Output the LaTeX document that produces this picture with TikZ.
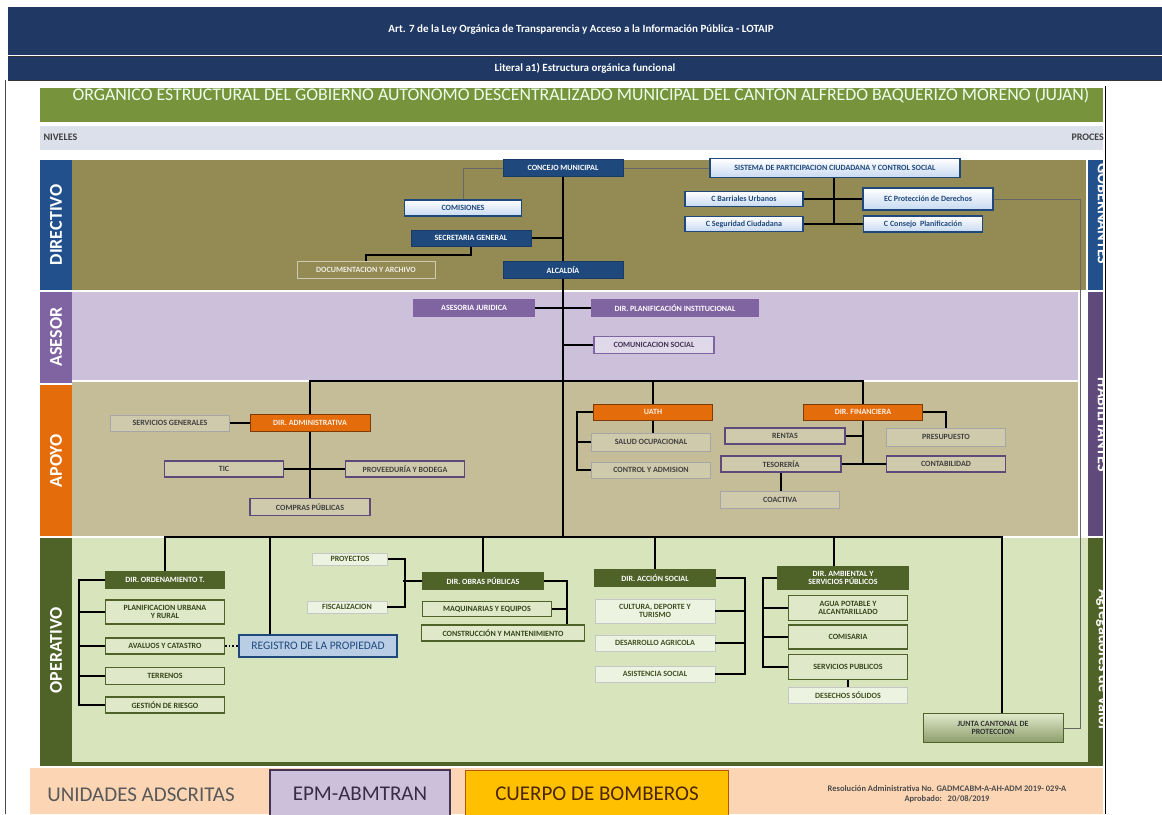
\documentclass[tikz,border=0pt]{standalone}
\usepackage{fontspec}
\setmainfont{Carlito}

\definecolor{hdrblue}{HTML}{1F3864}
\definecolor{titlegreen}{HTML}{77933C}
\definecolor{nivgray}{HTML}{DCE0EA}
\definecolor{dirband}{HTML}{948A54}
\definecolor{dirlabel}{HTML}{21508C}
\definecolor{asesband}{HTML}{CCC0DA}
\definecolor{aseslabel}{HTML}{8064A2}
\definecolor{apoyband}{HTML}{C4BD97}
\definecolor{apoylabel}{HTML}{E46C0A}
\definecolor{operband}{HTML}{D7E4BC}
\definecolor{operlabel}{HTML}{4F6228}
\definecolor{habilabel}{HTML}{604A7B}
\definecolor{navyfill}{HTML}{1F497D}
\definecolor{skyfill}{HTML}{C6D9F1}
\definecolor{purpline}{HTML}{5F497A}
\definecolor{regblue}{HTML}{B9CDE5}
\definecolor{peachfill}{HTML}{FCD5B4}
\definecolor{goldfill}{HTML}{FFC000}

\tikzset{
	orgbox/.style={draw, line width=1.4pt, inner sep=1pt, align=center, minimum height=16pt,
		font=\fontsize{8}{8}\selectfont\bfseries},
	dirnode/.style={orgbox, fill=navyfill, draw=navyfill!80!black, line width=1pt, text=white},
	skynode/.style={orgbox, draw=navyfill, top color=white, bottom color=skyfill, text=navyfill},
	asesnode/.style={orgbox, fill=aseslabel, draw=aseslabel, text=white},
	comnode/.style={orgbox, fill=asesband!60!white, draw=aseslabel, text=purpline!70!black},
	apoynode/.style={orgbox, fill=apoylabel, draw=apoylabel!55!black, line width=1pt, text=white!90!apoylabel},
	tanthin/.style={orgbox, fill=apoyband!80!white, draw=gray!70, line width=0.5pt, text=black!75},
	tanpurp/.style={orgbox, fill=apoyband!80!white, draw=purpline, text=black!75},
	opernode/.style={orgbox, fill=operlabel, draw=operlabel, text=white},
	greennode/.style={orgbox, fill=operband!80!white, draw=operlabel, text=operlabel!70!black},
	palenode/.style={orgbox, fill=operband!45!white, draw=gray!45, line width=0.5pt, text=operlabel!80!black},
	link/.style={line width=2pt, black},
	thinlink/.style={line width=0.6pt, black!60},
	lvl/.style={rotate=90, text=white, font=\fontsize{18}{18}\selectfont\bfseries},
	proc/.style={rotate=-90, text=white, font=\fontsize{16}{16}\selectfont\bfseries},
	foot/.style={font=\fontsize{21}{21}\selectfont},
}

\begin{document}
\begin{tikzpicture}[x=1pt,y=-1pt]
	\useasboundingbox (0,0) rectangle (1162,814);
	\fill[white] (0,0) rectangle (1162,814);

	% encabezado
	\fill[hdrblue] (8,7) rectangle (1162,55);
	\fill[hdrblue] (8,57) rectangle (1162,80);
	\draw[black!80, line width=1pt] (8,56)--(1162,56);
	\draw[black!80, line width=1pt] (8,80.5)--(1162,80.5);
	\node[text=white, font=\fontsize{11}{12}\selectfont\bfseries] (art) at (581,30)
		{Art. 7 de la Ley Orgánica de Transparencia y Acceso a la Información Pública - LOTAIP};
	\node[text=white, font=\fontsize{11}{12}\selectfont\bfseries] (literal) at (585,68)
		{Literal a1) Estructura orgánica funcional};
	\draw[black!70, line width=0.8pt] (5,80)--(5,814);
	\draw[black, line width=1.6pt] (1105.5,86)--(1105.5,814);

	% titulo
	\fill[titlegreen] (40,88) rectangle (1103,122);
	\begin{scope}
		\clip (40,88) rectangle (1103,122);
		\node[text=green!8!white, font=\fontsize{17.8}{18}\selectfont] (titulo) at (581,94)
			{ORGÁNICO ESTRUCTURAL DEL GOBIERNO AUTÓNOMO DESCENTRALIZADO MUNICIPAL DEL CANTÓN ALFREDO BAQUERIZO MORENO (JUJAN)};
	\end{scope}
	\fill[nivgray] (40,126) rectangle (1103,150);
	\node[anchor=west, text=black!75, font=\fontsize{10}{10}\selectfont\bfseries] (niveles) at (40,137) {NIVELES};
	\begin{scope}
		\clip (40,126) rectangle (1103,150);
		\node[anchor=west, text=black!75, font=\fontsize{10}{10}\selectfont\bfseries] (procesos) at (1068,137) {PROCESOS};
	\end{scope}

	% niveles
	\fill[dirlabel] (40,160) rectangle (72,290);
	\fill[dirband] (72,160) rectangle (1086,290);
	\fill[aseslabel] (40,292) rectangle (72,383);
	\fill[asesband] (72,292) rectangle (1078,380);
	\fill[apoylabel] (40,385) rectangle (72,536);
	\fill[apoyband] (72,382) rectangle (1078,536);
	\fill[operlabel] (40,538) rectangle (72,766);
	\fill[operband] (72,538) rectangle (1088,762);
	\fill[operlabel] (40,762) rectangle (1103,766);
	\fill[dirlabel] (1088,160) rectangle (1103,290);
	\fill[habilabel] (1088,292) rectangle (1103,536);
	\fill[operlabel] (1088,538) rectangle (1103,766);
	\node[lvl] (directivo) at (56,225) {DIRECTIVO};
	\node[lvl] (asesor) at (56,337) {ASESOR};
	\node[lvl] (apoyo) at (56,461) {APOYO};
	\node[lvl] (operativo) at (56,650) {OPERATIVO};
	\begin{scope}
		\clip (1088,155) rectangle (1104,766);
		\node[proc] (gobernantes) at (1103,214) {GOBERNANTES};
		\node[proc] (habilitantes) at (1103,425) {HABILITANTES};
		\node[proc] (agregadores) at (1103,660) {Agregadores de Valor};
	\end{scope}

	% directivo
	\node[dirnode, minimum width=120pt, minimum height=17pt] (concejo) at (563,168) {CONCEJO MUNICIPAL};
	\node[skynode, minimum width=250pt, minimum height=19pt] (sistema) at (835,168)
		{SISTEMA DE PARTICIPACION CIUDADANA Y CONTROL SOCIAL};
	\node[skynode, minimum width=117pt] (comisiones) at (463,208) {COMISIONES};
	\node[dirnode, minimum width=120pt] (secretaria) at (471,238) {SECRETARIA GENERAL};
	\node[orgbox, fill=dirband, draw=white!55!dirband, line width=0.5pt, text=white!85!dirband,
		minimum width=138pt, minimum height=17pt] (documentacion) at (366,270) {DOCUMENTACION Y ARCHIVO};
	\node[dirnode, minimum width=120pt, minimum height=17pt] (alcaldia) at (563,270) {ALCALDÍA};
	\node[skynode, minimum width=118pt, minimum height=15pt] (barriales) at (744,199) {C Barriales Urbanos};
	\node[skynode, minimum width=118pt, minimum height=15pt] (seguridad) at (744,224) {C Seguridad Ciudadana};
	\node[skynode, minimum width=130pt, minimum height=22pt] (proteccion) at (928,199) {EC Protección de Derechos};
	\node[skynode, minimum width=119pt] (planificacion) at (923,224) {C Consejo\ \ Planificación};

	\draw[link] (concejo)--(alcaldia);
	\draw[thinlink] (concejo.west) -| (comisiones.north);
	\draw[thinlink] (concejo)--(sistema);
	\draw[link] (secretaria)--(secretaria -| alcaldia);
	\draw[link] (secretaria.south)--++(0,8) -| (documentacion.north);
	\draw[link] ([xshift=-1pt]sistema.south)--([xshift=-1pt]sistema.south |- seguridad);
	\draw[link] (barriales)--(proteccion);
	\draw[link] (seguridad)--(planificacion);

	% asesor
	\node[asesnode, minimum width=120pt] (juridica) at (474,308) {ASESORIA JURIDICA};
	\node[asesnode, minimum width=167pt] (planinst) at (675,308) {DIR. PLANIFICACIÓN INSTITUCIONAL};
	\node[comnode, minimum width=120pt, minimum height=17pt] (comunicacion) at (654,345) {COMUNICACION SOCIAL};
	\coordinate (busA) at (563,381);
	\coordinate (busO) at (563,537);
	\draw[link] (alcaldia)--(alcaldia |- busO);
	\draw[link] (juridica)--(planinst);
	\draw[link] (comunicacion)--(comunicacion -| alcaldia);

	% apoyo
	\node[tanthin, minimum width=119pt] (servgen) at (170,423) {SERVICIOS GENERALES};
	\node[apoynode, minimum width=120pt, minimum height=17pt] (admin) at (310,423) {DIR. ADMINISTRATIVA};
	\node[tanpurp, minimum width=119pt] (tic) at (224,469) {TIC};
	\node[tanpurp, minimum width=119pt] (proveeduria) at (405,469) {PROVEEDURÍA Y BODEGA};
	\node[tanpurp, minimum width=120pt, minimum height=17pt] (compras) at (310,507) {COMPRAS PÚBLICAS};
	\node[apoynode, minimum width=119pt] (uath) at (653,412) {UATH};
	\node[tanthin, minimum width=119pt, minimum height=18pt] (salud) at (651,442) {SALUD OCUPACIONAL};
	\node[tanthin, minimum width=119pt] (control) at (651,470) {CONTROL Y ADMISION};
	\node[apoynode, minimum width=119pt] (financiera) at (863,412) {DIR. FINANCIERA};
	\node[tanpurp, minimum width=120pt] (rentas) at (785,436) {RENTAS};
	\node[tanthin, minimum width=119pt, minimum height=18pt] (presupuesto) at (946,437) {PRESUPUESTO};
	\node[tanpurp, minimum width=120pt] (tesoreria) at (781,464) {TESORERÍA};
	\node[tanpurp, minimum width=119pt] (contabilidad) at (946,464) {CONTABILIDAD};
	\node[tanthin, minimum width=119pt, minimum height=17pt] (coactiva) at (780,500) {COACTIVA};

	\draw[link] (admin.north) |- (busA) -| (financiera.north);
	\draw[link] (uath.north)--(uath.north |- busA);
	\draw[link] (servgen)--(admin);
	\draw[link] (admin)--(compras);
	\draw[link] (tic)--(proveeduria);
	\draw[link] (uath.south)--(uath.south |- salud.north);
	\draw[link] (uath.west)--++(-16,0) |- (control.west);
	\draw[link] (salud.west)--++(-14,0);
	\draw[link] (financiera.south)--(financiera.south |- tesoreria);
	\draw[link] (rentas.east)--(rentas.east -| financiera);
	\draw[link] (tesoreria)--(contabilidad);
	\draw[link] (financiera.east) -| (presupuesto.north);
	\draw[link] (tesoreria.south)--(tesoreria.south |- coactiva.north);

	% operativo
	\node[opernode, minimum width=119pt] (ordena) at (165,580) {DIR. ORDENAMIENTO T.};
	\node[greennode, minimum width=119pt, minimum height=24pt] (planurb) at (165,612) {PLANIFICACION URBANA\\Y RURAL};
	\node[greennode, minimum width=119pt] (avaluos) at (165,646) {AVALUOS Y CATASTRO};
	\node[greennode, minimum width=119pt, minimum height=17pt] (terrenos) at (165,676) {TERRENOS};
	\node[greennode, minimum width=119pt] (riesgo) at (165,705) {GESTIÓN DE RIESGO};
	\node[orgbox, fill=regblue, draw=navyfill, line width=1.6pt, text=navyfill, font=\fontsize{11.5}{11.5}\selectfont,
		minimum width=158pt, minimum height=22pt] (registro) at (318,646) {REGISTRO DE LA PROPIEDAD};
	\node[palenode, minimum width=75pt, minimum height=12pt] (proyectos) at (350,559) {PROYECTOS};
	\node[palenode, minimum width=80pt, minimum height=12pt] (fiscalizacion) at (347,607) {FISCALIZACION};
	\node[opernode, minimum width=120pt, minimum height=17pt] (obras) at (483,581) {DIR. OBRAS PÚBLICAS};
	\node[greennode, minimum width=129pt, minimum height=15pt] (maquinarias) at (487,609) {MAQUINARIAS Y EQUIPOS};
	\node[greennode, minimum width=163pt] (construccion) at (503,633) {CONSTRUCCIÓN Y MANTENIMIENTO};
	\node[opernode, minimum width=120pt, minimum height=17pt] (accion) at (655,578) {DIR. ACCIÓN SOCIAL};
	\node[palenode, minimum width=120pt, minimum height=24pt] (cultura) at (655,611) {CULTURA, DEPORTE Y\\TURISMO};
	\node[palenode, minimum width=120pt] (agricola) at (655,643) {DESARROLLO AGRICOLA};
	\node[palenode, minimum width=120pt] (asistencia) at (655,674) {ASISTENCIA SOCIAL};
	\node[opernode, minimum width=131pt, minimum height=22pt] (ambiental) at (843,578) {DIR. AMBIENTAL Y\\SERVICIOS PÚBLICOS};
	\node[greennode, minimum width=119pt, minimum height=25pt] (agua) at (848,608) {AGUA POTABLE Y\\ALCANTARILLADO};
	\node[greennode, minimum width=119pt, minimum height=24pt] (comisaria) at (848,637) {COMISARIA};
	\node[greennode, minimum width=119pt, minimum height=25pt] (servpub) at (848,667) {SERVICIOS PUBLICOS};
	\node[palenode, minimum width=119pt] (desechos) at (848,695) {DESECHOS SÓLIDOS};
	\node[orgbox, top color=operband!80!white, bottom color=operlabel!55!operband, draw=operlabel, line width=1pt,
		text=black!80, minimum width=140pt, minimum height=29pt] (junta) at (993,728) {JUNTA CANTONAL DE\\PROTECCION};

	\draw[link] (ordena.north) |- (busO) -| ([xshift=9pt]junta.north);
	\draw[link] ([xshift=-48pt]registro.north)--([xshift=-48pt]registro.north |- busO);
	\draw[link] (obras.north)--(obras.north |- busO);
	\draw[link] (accion.north)--(accion.north |- busO);
	\draw[link] ([xshift=-9pt]ambiental.north)--([xshift=-9pt]ambiental.north |- busO);
	\draw[link] (ordena.west)--++(-26,0) |- (riesgo.west);
	\foreach \n in {planurb,avaluos,terrenos}
		\draw[link] (\n.west)--++(-26,0);
	\draw[line width=1.6pt, dotted] (avaluos)--(registro);
	\draw[link] (proyectos.east)--++(17,0) |- (fiscalizacion.east);
	\draw[link] (obras.west)--++(-19,0);
	\draw[link] (obras.east)--++(23,0) coordinate (obrasr)--(obrasr |- construccion.north);
	\draw[link] (maquinarias.east)--(maquinarias.east -| obrasr);
	\draw[link] (accion.east)--++(29,0) |- (asistencia.east);
	\foreach \n in {cultura,agricola}
		\draw[link] (\n.east)--++(29,0);
	\draw[link] (ambiental.west)--++(-14,0) |- (servpub.west);
	\foreach \n in {agua,comisaria}
		\draw[link] (\n.west)--++(-25,0);
	\draw[link] (servpub)--(desechos);
	\draw[thinlink] (proteccion.east)--++(87,0) |- (junta.east);

	% unidades adscritas
	\fill[peachfill] (30,768) rectangle (1103,814);
	\node[foot, text=black!65] (unidades) at (141,795) {UNIDADES ADSCRITAS};
	\node[foot, draw=purpline!70!black, line width=1.5pt, fill=asesband, text=purpline!60!black,
		minimum width=180pt, minimum height=48pt] (epm) at (360,794) {EPM-ABMTRAN};
	\node[foot, draw=apoylabel!80!black, line width=1pt, fill=goldfill, text=black!70!orange,
		minimum width=263pt, minimum height=48pt] (bomberos) at (597,794) {CUERPO DE BOMBEROS};
	\node[text=black!70, align=center, font=\fontsize{8.5}{10}\selectfont\bfseries] (resolucion) at (947,794)
		{Resolución Administrativa No. GADMCABM-A-AH-ADM 2019- 029-A\\Aprobado:\ \ \ 20/08/2019};
\end{tikzpicture}
\end{document}
